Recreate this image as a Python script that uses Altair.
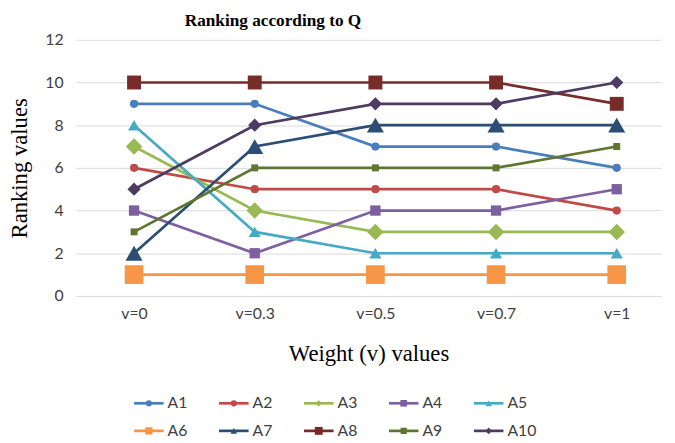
import altair as alt
import pandas as pd

categories = ["v=0", "v=0.3", "v=0.5", "v=0.7", "v=1"]
series = ["A1", "A2", "A3", "A4", "A5", "A6", "A7", "A8", "A9", "A10"]

A1 = [9, 9, 7, 7, 6]
A2 = [6, 5, 5, 5, 4]
A3 = [7, 4, 3, 3, 3]
A4 = [4, 2, 4, 4, 5]
A5 = [8, 3, 2, 2, 2]
A6 = [1, 1, 1, 1, 1]
A7 = [2, 7, 8, 8, 8]
A8 = [10, 10, 10, 10, 9]
A9 = [3, 6, 6, 6, 7]
A10 = [5, 8, 9, 9, 10]
values = [A1, A2, A3, A4, A5, A6, A7, A8, A9, A10]

colors = ["#4A7EBB", "#BE4B48", "#98B954", "#7D60A0", "#46AAC5",
          "#F79646", "#2C4D75", "#772C2A", "#5F7530", "#4D3B62"]
shapes = ["circle", "circle", "diamond", "square", "triangle-up",
          "square", "triangle-up", "square", "square", "diamond"]
sizes = [70, 70, 280, 110, 150, 360, 300, 200, 50, 180]
legend_sizes = [40, 40, 40, 45, 45, 55, 45, 64, 40, 45]

rows = []
for s, vals in zip(series, values):
    for c, v in zip(categories, vals):
        rows.append({"series": s, "cat": c, "val": v})
df = pd.DataFrame(rows)

leg = pd.DataFrame({"name": series,
                    "col": [i % 5 for i in range(10)],
                    "row": [i // 5 for i in range(10)]})

LBL_FONT = "Lato"
SERIF = "Liberation Serif"

xenc = alt.X("cat:N", sort=categories,
             scale=alt.Scale(type="point", padding=0.4245, align=0.567),
             axis=alt.Axis(title="Weight (v) values", labelAngle=0, ticks=False,
                           domain=False, grid=False, labelFont=LBL_FONT,
                           labelFontSize=16, labelColor="#404040", labelPadding=10,
                           titleFont=SERIF, titleFontSize=23, titleFontWeight="normal",
                           titleColor="#000000", titlePadding=22))
yenc = alt.Y("val:Q", scale=alt.Scale(domain=[0, 12]),
             axis=alt.Axis(title="Ranking values", values=[0, 2, 4, 6, 8, 10, 12],
                           ticks=False, domain=False, grid=True, gridColor="#D9D9D9",
                           gridWidth=1, labelFont=LBL_FONT, labelFontSize=16,
                           labelColor="#404040", labelPadding=13,
                           titleFont=SERIF, titleFontSize=23, titleFontWeight="normal",
                           titleColor="#000000", titlePadding=14))
cenc = alt.Color("series:N", sort=series,
                 scale=alt.Scale(domain=series, range=colors), legend=None)
senc = alt.Shape("series:N", sort=series,
                 scale=alt.Scale(domain=series, range=shapes), legend=None)
zenc = alt.Size("series:N", sort=series,
                scale=alt.Scale(type="ordinal", domain=series, range=sizes), legend=None)

lines = alt.Chart(df).mark_line(strokeWidth=2.75).encode(
    x=xenc, y=yenc, color=cenc, detail="series:N")
points = alt.Chart(df).mark_point(filled=True, opacity=1).encode(
    x=xenc, y=yenc, color=cenc, shape=senc, size=zenc)

main = alt.layer(lines, points).properties(
    width=594, height=260,
    title=alt.TitleParams("Ranking according to Q", font=SERIF, fontSize=17.5,
                          fontWeight="bold", color="#000000", anchor="middle",
                          frame="group", dx=-97, offset=3))

lx = alt.X("col:Q", scale=alt.Scale(domain=[-0.858, 6.099]), axis=None)
ly = alt.Y("row:O", scale=alt.Scale(type="point", padding=0), axis=None)
lc = alt.Color("name:N", sort=series, scale=alt.Scale(domain=series, range=colors), legend=None)

leg_line = alt.Chart(leg).mark_point(shape="M-1,0L1,0", strokeWidth=2.75, filled=False,
                                     size=900, opacity=1).encode(x=lx, y=ly, color=lc)
leg_mark = alt.Chart(leg).mark_point(filled=True, opacity=1).encode(
    x=lx, y=ly, color=lc,
    shape=alt.Shape("name:N", sort=series, scale=alt.Scale(domain=series, range=shapes), legend=None),
    size=alt.Size("name:N", sort=series,
                  scale=alt.Scale(type="ordinal", domain=series, range=legend_sizes), legend=None))
leg_text = alt.Chart(leg).mark_text(align="left", baseline="middle", dx=19,
                                    font=LBL_FONT, fontSize=16, color="#404040").encode(
    x=lx, y=ly, text="name:N")
legend = alt.layer(leg_line, leg_mark, leg_text).properties(width=600, height=28)

chart = alt.vconcat(main, legend, spacing=30).resolve_scale(
    size="independent", shape="independent", color="independent"
).properties(
    padding={"left": 0, "top": 0, "right": 0, "bottom": 0}
).configure(background="#FFFFFF").configure_view(stroke=None)

chart.save("out.html", embed_options={"renderer": "svg", "actions": False})
